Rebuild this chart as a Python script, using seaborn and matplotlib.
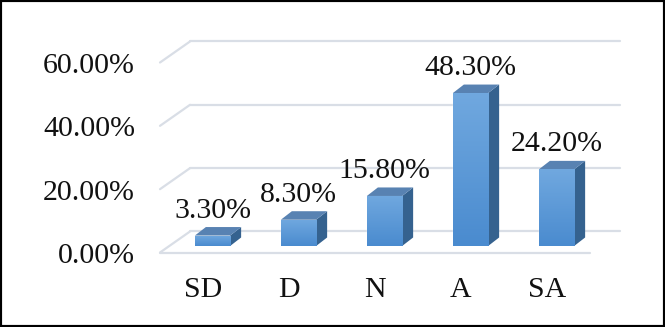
import numpy as np
import matplotlib
matplotlib.use("Agg")
import matplotlib.pyplot as plt
import seaborn as sns
from matplotlib.patches import Polygon, Rectangle
from matplotlib.transforms import offset_copy
from matplotlib.colors import LinearSegmentedColormap

# data
categories = ["SD", "D", "N", "A", "SA"]
values = [0.033, 0.083, 0.158, 0.483, 0.242]
value_labels = ["3.30%", "8.30%", "15.80%", "48.30%", "24.20%"]
y_ticks = [0.0, 0.2, 0.4, 0.6]
y_tick_labels = ["0.00%", "20.00%", "40.00%", "60.00%"]

sns.set_style("white")
plt.rcParams["font.family"] = ["Liberation Serif", "DejaVu Serif"]

W, H = 665, 327
fig = plt.figure(figsize=(W / 100, H / 100), dpi=100)
# axes = plane of the bar front faces (pixels)
ax = fig.add_axes([169.5 / W, 81 / H, 430 / W, 190 / H])

sns.barplot(x=categories, y=values, width=0.41, color="#5b9bd5",
            saturation=1, ax=ax, zorder=3)
ax.set_xlim(-0.5, 4.5)
ax.set_ylim(0, 0.6)
ax.axis("off")

# pseudo 3d depth offsets, in data units (86 px per category, 316.5 px per 1.0)
px_x, px_y = 86.0, 316.5
front = (-9.5 / px_x, -6.5 / px_y)
back = (20.5 / px_x, 14.5 / px_y)
depth = (11 / px_x, 8.5 / px_y)

grid_c = "#d9dee6"
for t in y_ticks:
    ax.plot([-0.5 + back[0], 4.5 + back[0]], [t + back[1]] * 2,
            color=grid_c, lw=1.6, zorder=1, clip_on=False)
    ax.plot([-0.5 + front[0], -0.5 + back[0]], [t + front[1], t + back[1]],
            color=grid_c, lw=1.6, zorder=1, clip_on=False)
ax.plot([-0.5 + front[0], 4.5 + front[0]], [front[1]] * 2,
        color=grid_c, lw=1.6, zorder=1, clip_on=False)

cmap = LinearSegmentedColormap.from_list("bar", ["#4a8bcf", "#70a8df"])
grad = np.linspace(0, 1, 100).reshape(-1, 1)
for p in ax.patches[:len(values)]:
    x0, w, h = p.get_x(), p.get_width(), p.get_height()
    x1 = x0 + w
    img = ax.imshow(grad, extent=[x0, x1, 0, h], origin="lower", cmap=cmap,
                    aspect="auto", zorder=3.5)
    img.set_clip_path(p)
    side = Polygon([(x1, 0), (x1 + depth[0], depth[1]),
                    (x1 + depth[0], h + depth[1]), (x1, h)],
                   closed=True, fc="#35628f", ec="none", zorder=3)
    top = Polygon([(x0, h), (x1, h), (x1 + depth[0], h + depth[1]),
                   (x0 + depth[0], h + depth[1])],
                  closed=True, fc="#5882b2", ec="none", zorder=3)
    ax.add_patch(side)
    ax.add_patch(top)

ax.set_xlim(-0.5, 4.5)
ax.set_ylim(0, 0.6)

fs = 21.5
# value labels above the bars
lab_tr = offset_copy(ax.transData, fig=fig, x=0, y=18, units="dots")
for i, (v, s) in enumerate(zip(values, value_labels)):
    ax.text(i, v, s, transform=lab_tr, ha="center", va="baseline",
            fontsize=fs, color="#111111", clip_on=False)

# category labels on the front floor edge
cat_tr = offset_copy(ax.transData, fig=fig, x=-9.5, y=-51, units="dots")
for i, c in enumerate(categories):
    ax.text(i, 0, c, transform=cat_tr, ha="center", va="baseline",
            fontsize=fs, color="#111111", clip_on=False)

# y tick labels aligned to the front wall
ytr = offset_copy(ax.transData, fig=fig, x=-9.5 - 25, y=-6.5 - 10.5, units="dots")
for t, s in zip(y_ticks, y_tick_labels):
    ax.text(-0.5, t, s, transform=ytr, ha="right", va="baseline",
            fontsize=fs, color="#111111", clip_on=False)

# outer frame
fig.patches.append(Rectangle((0, 0), 1, 1, transform=fig.transFigure,
                             fill=False, ec="black", lw=3))

fig.savefig("out.png", dpi=100)
